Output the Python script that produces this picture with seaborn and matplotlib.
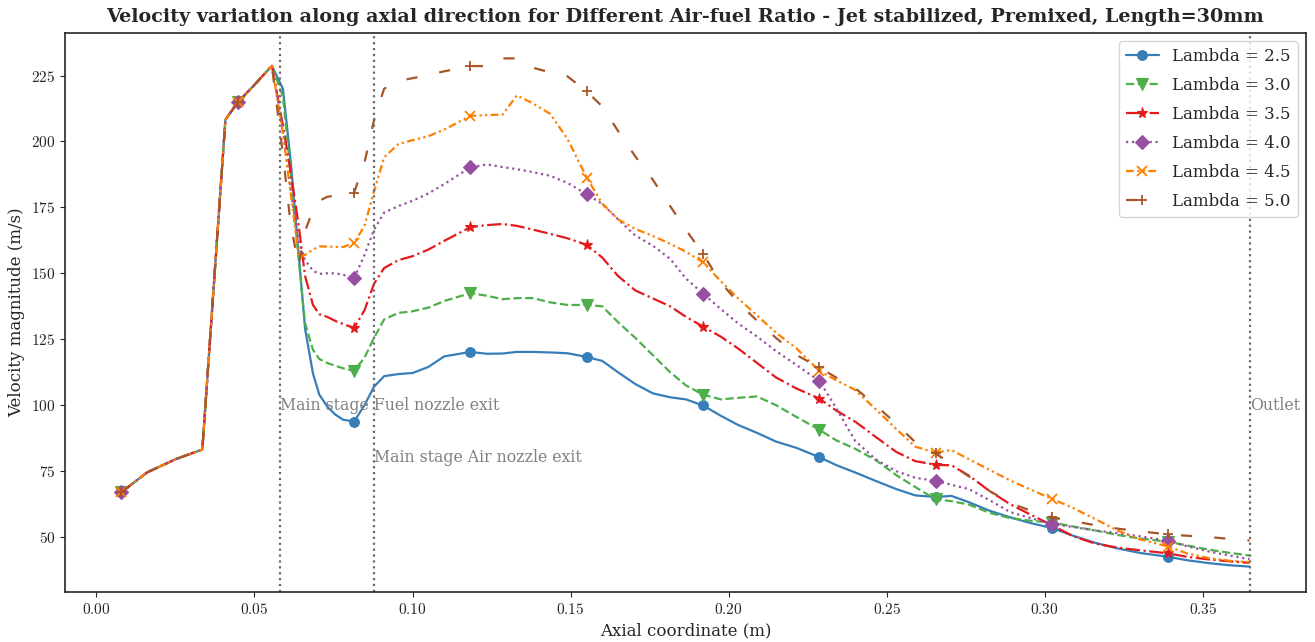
import numpy as np
import pandas as pd
import matplotlib
matplotlib.use("Agg")
import matplotlib.pyplot as plt
import seaborn as sns
from matplotlib.ticker import MultipleLocator, FuncFormatter

# ---------------- data ----------------
axial_x = [0.0079, 0.016, 0.025, 0.0335, 0.0408, 0.0447, 0.050, 0.0555, 0.0590, 0.0615,
           0.064, 0.066, 0.0685, 0.0705, 0.073, 0.0755, 0.078, 0.0815, 0.0848, 0.0878,
           0.091, 0.0955, 0.100, 0.105, 0.110, 0.1183, 0.1235, 0.1285, 0.133, 0.138,
           0.1435, 0.149, 0.1551, 0.160, 0.165, 0.1705, 0.176, 0.1815, 0.1865, 0.1919,
           0.1975, 0.203, 0.209, 0.215, 0.2215, 0.2287, 0.234, 0.240, 0.2465, 0.253,
           0.259, 0.2655, 0.2705, 0.276, 0.2825, 0.289, 0.2955, 0.3023, 0.309, 0.316,
           0.323, 0.330, 0.3391, 0.345, 0.352, 0.3585, 0.3648]

common_inlet = [67.0, 74.5, 79.5, 83.2, 208.3, 214.8, 221.5, 228.7]

vel_l25 = common_inlet + [
    220, 192, 157, 129, 112, 104, 99.5, 96.5, 94.5, 93.8,
    100, 107, 111, 111.8, 112.2, 114.5, 118.5, 120.2, 119.5, 119.6,
    120.2, 120.2, 120.0, 119.7, 118.3, 116.8, 112.5, 108, 104.5, 103,
    102.2, 99.9, 96, 92.5, 89.5, 86.2, 83.8, 80.3, 77.3, 74.5,
    71.3, 68.2, 65.8, 65.2, 65.6, 63.2, 60, 57.5, 55.3, 53.4,
    50.5, 47.8, 45.7, 44, 42.5, 41.2, 40.1, 39.3, 38.8]

vel_l30 = common_inlet + [
    217, 188, 155, 131, 121, 117.5, 116, 115, 114, 113,
    118, 125.5, 132.5, 135, 135.6, 137, 139.5, 142.5, 141.5, 140.2,
    140.6, 140.6, 139, 138, 138, 137.5, 131.5, 125.5, 119, 112.5,
    107.5, 104, 102.2, 102.8, 103.3, 100, 95.5, 90.7, 86.7, 83.5,
    79.2, 73.5, 69, 64.3, 63.6, 62.3, 59.2, 57.2, 56.2, 55.5,
    54, 52.5, 50.8, 49.5, 48.2, 46.8, 45.2, 44, 43]

vel_l35 = common_inlet + [
    206, 188, 168, 149, 138, 134.5, 133.5, 132, 130.8, 129.3,
    136, 146, 152, 155, 156.5, 159, 162.3, 167.5, 168.3, 168.7,
    168, 166.6, 165, 163.3, 160.8, 156, 149, 143.5, 140.5, 137.5,
    133.5, 129.8, 126, 121.5, 116, 110.5, 106.3, 102.5, 98, 93.8,
    88, 82.3, 78.8, 77.4, 77.2, 73.3, 67.5, 62.5, 58.5, 54.5,
    50.3, 47.5, 46, 45, 43.8, 42.5, 41.5, 40.8, 40.2]

vel_l40 = common_inlet + [
    205, 181, 162, 155, 151, 149.8, 150, 150, 149.5, 148.1,
    157, 166.5, 173, 175.5, 177.5, 180.3, 183.8, 190.2, 191.3, 190.3,
    189.5, 188.4, 187, 184.3, 180, 176.3, 170.5, 164.3, 160.5, 155.5,
    148, 142.3, 136.5, 131, 126, 120.5, 115.2, 109.2, 99, 86.5,
    79.5, 75, 72.5, 71.3, 69.8, 68.2, 64, 59.5, 57.2, 55,
    53.8, 52.5, 51.5, 50.3, 48.6, 46.5, 44.5, 43, 41.6]

vel_l45 = common_inlet + [
    203, 180, 156, 157, 159, 160.2, 160.2, 160, 160, 161.5,
    168, 181, 194, 199, 200.5, 202, 204.5, 209.7, 210, 210.2,
    217.5, 214.5, 210.5, 201, 186.3, 176.5, 170.5, 166.8, 164.2, 161.2,
    158.2, 154.2, 147, 140.5, 134, 127.5, 121.5, 113, 109.5, 105.8,
    98.5, 91, 84.3, 82, 83, 79.5, 75.5, 71.5, 68, 64.5,
    61, 56.8, 52.5, 49.2, 46.4, 43.8, 42, 41, 40.5]

vel_l50 = common_inlet + [
    195, 168, 153, 166, 174, 177.5, 179, 179.5, 180, 180.6,
    192, 208, 220, 223, 224, 225.2, 226.6, 228.6, 228.6, 231.5,
    231.5, 228, 226.2, 224.7, 219, 213.3, 204, 194.3, 185.5, 175.5,
    166.5, 157.3, 146.5, 139, 132, 125.5, 119, 114.3, 110.5, 106.5,
    100, 93, 86, 81.8, 77.5, 73, 67.5, 63, 60, 57.5,
    56, 54.5, 53.2, 52.2, 51, 50.5, 50, 49.3, 48.7]

lambda_labels = ["Lambda = 2.5", "Lambda = 3.0", "Lambda = 3.5",
                 "Lambda = 4.0", "Lambda = 4.5", "Lambda = 5.0"]
fuel_exit_x = 0.058
air_exit_x = 0.0877
outlet_x = 0.3649

title = ("Velocity variation along axial direction for Different Air-fuel Ratio - "
         "Jet stabilized, Premixed, Length=30mm")

# ---------------- style ----------------
sns.set_style("ticks")
plt.rcParams["font.family"] = ["DejaVu Serif"]
plt.rcParams["mathtext.fontset"] = "cm"

colors = ["#377eb8", "#4daf4a", "#e41a1c", "#984ea3", "#ff7f00", "#a65628"]
styles = ["-", "--", "-.", ":", (0, (3.5, 1.5, 1, 1.5, 1, 1.5)), (0, (5, 10))]
markers = ["o", "v", "*", "D", "x", "+"]
msizes = [7, 8, 8, 7, 6.5, 7.5]
mark_idx = [0, 5, 17, 25, 32, 39, 45, 51, 57, 62]

fig = plt.figure(figsize=(13.15, 6.42), dpi=100)
ax = fig.add_axes([65 / 1315, 1 - 592 / 642, (1306 - 65) / 1315, (592 - 33) / 642])

series = [vel_l25, vel_l30, vel_l35, vel_l40, vel_l45, vel_l50]
for i, (vals, lab) in enumerate(zip(series, lambda_labels)):
    df = pd.DataFrame({"x": axial_x, "v": vals})
    sns.lineplot(data=df, x="x", y="v", ax=ax, color=colors[i], linestyle=styles[i],
                 marker=markers[i], markersize=msizes[i], markevery=mark_idx,
                 markeredgewidth=1.3 if markers[i] in ("x", "+") else 0.8,
                 markeredgecolor=colors[i], linewidth=1.6, label=lab, sort=False)

for xv in (fuel_exit_x, air_exit_x, outlet_x):
    ax.axvline(xv, color="dimgray", linestyle=":", linewidth=1.6)

ax.text(fuel_exit_x, 100, "Main stage Fuel nozzle exit", color="gray", fontsize=11.3,
        va="center", ha="left")
ax.text(air_exit_x, 80, "Main stage Air nozzle exit", color="gray", fontsize=11.3,
        va="center", ha="left")
ax.text(outlet_x, 100, "Outlet", color="gray", fontsize=11.3, va="center", ha="left")

ax.yaxis.set_major_locator(MultipleLocator(25))
ax.xaxis.set_major_locator(MultipleLocator(0.05))
ax.xaxis.set_major_formatter(FuncFormatter(lambda v, p: r"$%.2f$" % v))
ax.yaxis.set_major_formatter(FuncFormatter(lambda v, p: r"$%d$" % round(v)))
ax.tick_params(labelsize=11)

ax.set_xlabel("Axial coordinate (m)", fontsize=12, labelpad=4)
ax.set_ylabel("Velocity magnitude (m/s)", fontsize=12)
ax.set_title(title, fontsize=13.8, fontweight="bold", pad=8)
ax.legend(loc="upper right", fontsize=12, labelspacing=0.72)
for s in ax.spines.values():
    s.set_linewidth(1.2)

fig.savefig("out.png", dpi=100)
